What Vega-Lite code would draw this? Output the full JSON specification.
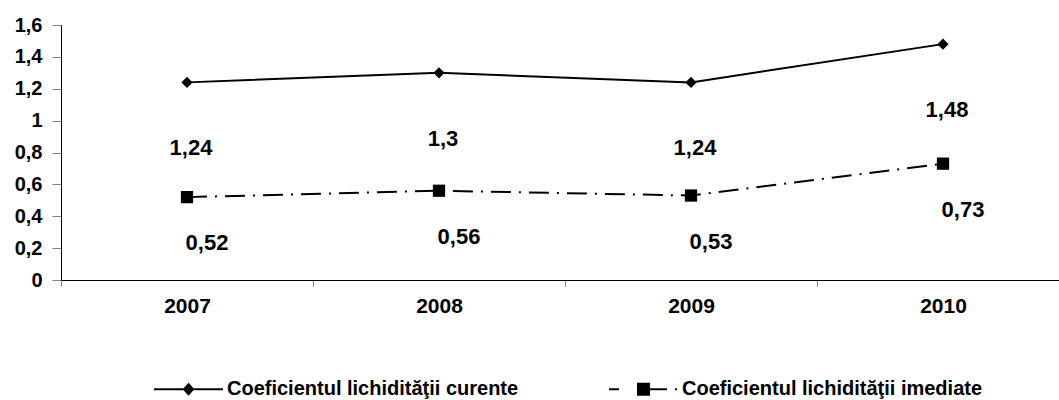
{
  "$schema": "https://vega.github.io/schema/vega-lite/v6.json",
  "autosize": "none",
  "width": 998,
  "height": 255,
  "padding": {"left": 61, "top": 25, "right": 0, "bottom": 120},
  "background": "white",
  "config": {
    "view": {"stroke": null},
    "font": "Liberation Sans",
    "locale": {"number": {"decimal": ",", "thousands": ".", "grouping": [3], "currency": ["", " lei"]}}
  },
  "data": {
    "values": [
      {"year": "2007", "series": "Coeficientul lichidităţii curente", "value": 1.24},
      {"year": "2008", "series": "Coeficientul lichidităţii curente", "value": 1.3},
      {"year": "2009", "series": "Coeficientul lichidităţii curente", "value": 1.24},
      {"year": "2010", "series": "Coeficientul lichidităţii curente", "value": 1.48},
      {"year": "2007", "series": "Coeficientul lichidităţii imediate", "value": 0.52},
      {"year": "2008", "series": "Coeficientul lichidităţii imediate", "value": 0.56},
      {"year": "2009", "series": "Coeficientul lichidităţii imediate", "value": 0.53},
      {"year": "2010", "series": "Coeficientul lichidităţii imediate", "value": 0.73}
    ]
  },
  "encoding": {
    "x": {
      "field": "year", "type": "ordinal",
      "scale": {"type": "band", "range": [0, 1008], "paddingInner": 0, "paddingOuter": 0},
      "axis": {
        "title": null, "tickBand": "extent", "grid": false, "labelAngle": 0,
        "domainColor": "black", "domainWidth": 1,
        "tickColor": "#808080", "tickSize": 6, "tickWidth": 1,
        "labelFont": "Liberation Sans", "labelFontWeight": "bold", "labelFontSize": 21,
        "labelColor": "black", "labelPadding": 9
      }
    },
    "y": {
      "field": "value", "type": "quantitative",
      "scale": {"domain": [0, 1.6], "nice": false, "zero": true},
      "axis": {
        "title": null, "grid": false, "values": [0, 0.2, 0.4, 0.6, 0.8, 1, 1.2, 1.4, 1.6], "format": "~g",
        "domainColor": "black", "domainWidth": 1,
        "tickColor": "#808080", "tickSize": 9, "tickWidth": 1,
        "labelFont": "Liberation Sans", "labelFontWeight": "bold", "labelFontSize": 20,
        "labelColor": "black", "labelPadding": 10
      }
    }
  },
  "layer": [
    {
      "transform": [{"filter": "datum.series === 'Coeficientul lichidităţii curente'"}],
      "mark": {"type": "line", "strokeWidth": 2, "color": "black"},
      "encoding": {}
    },
    {
      "transform": [{"filter": "datum.series === 'Coeficientul lichidităţii imediate'"}],
      "mark": {"type": "line", "strokeWidth": 2, "color": "black", "strokeDash": [20, 8, 2, 8]},
      "encoding": {}
    },
    {
      "transform": [{"filter": "datum.series === 'Coeficientul lichidităţii curente'"}],
      "mark": {"type": "point", "filled": true, "color": "black", "opacity": 1, "shape": "diamond", "size": 125},
      "encoding": {}
    },
    {
      "transform": [{"filter": "datum.series === 'Coeficientul lichidităţii imediate'"}],
      "mark": {"type": "point", "filled": true, "color": "black", "opacity": 1, "shape": "square", "size": 150},
      "encoding": {}
    },
    {
      "transform": [{"filter": "false"}],
      "mark": {"type": "point", "filled": false, "color": "black", "strokeWidth": 2, "opacity": 1},
      "encoding": {
        "shape": {
          "field": "series", "type": "nominal",
          "scale": {
            "domain": ["Coeficientul lichidităţii curente", "Coeficientul lichidităţii imediate"],
            "range": [
              "M-1,0L1,0M0,-0.145L0.13,0L0,0.145L-0.13,0ZM-0.085,-0.05L0.085,-0.05M-0.085,0.05L0.085,0.05M-0.04,-0.1L0.04,-0.1M-0.04,0.1L0.04,0.1",
              "M-1,0L-0.71,0M-0.16,0L0.68,0M0.91,0L0.97,0M-0.16,-0.16L0.16,-0.16L0.16,0.16L-0.16,0.16ZM-0.16,-0.11L0.16,-0.11M-0.16,-0.055L0.16,-0.055M-0.16,0.055L0.16,0.055M-0.16,0.11L0.16,0.11"
            ]
          },
          "legend": {
            "title": null, "orient": "none", "direction": "horizontal",
            "legendX": 92, "legendY": 328.5,
            "symbolSize": 4761,
            "symbolStrokeColor": "black", "symbolStrokeWidth": 2, "symbolOpacity": 1,
            "labelFont": "Liberation Sans", "labelFontSize": 20, "labelFontWeight": "bold", "labelColor": "black",
            "labelLimit": 1000, "labelOffset": 3, "columnPadding": 86, "padding": 0
          }
        }
      }
    },
    {
      "transform": [{"filter": "datum.series === 'Coeficientul lichidităţii curente'"}],
      "mark": {"type": "text", "font": "Liberation Sans", "fontWeight": "bold", "fontSize": 22, "color": "black", "dx": 4, "dy": 66, "baseline": "middle"},
      "encoding": {"text": {"field": "value", "type": "quantitative", "format": "~g"}}
    },
    {
      "transform": [{"filter": "datum.series === 'Coeficientul lichidităţii imediate'"}],
      "mark": {"type": "text", "font": "Liberation Sans", "fontWeight": "bold", "fontSize": 22, "color": "black", "dx": 20, "dy": 46, "baseline": "middle"},
      "encoding": {"text": {"field": "value", "type": "quantitative", "format": "~g"}}
    }
  ]
}
